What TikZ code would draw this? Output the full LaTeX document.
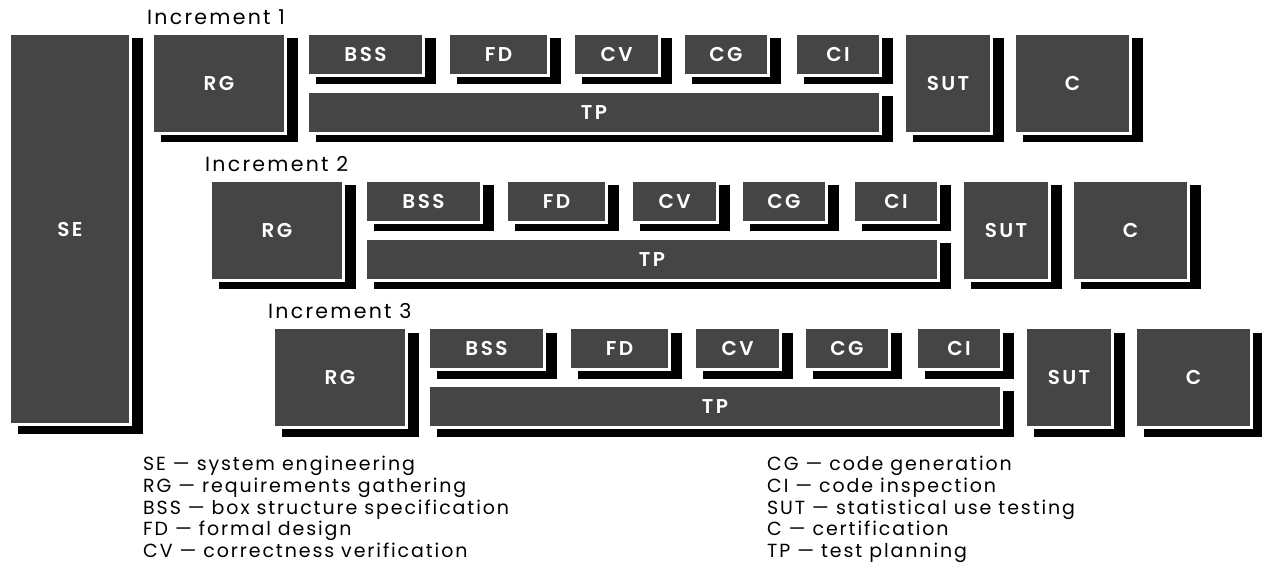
\documentclass[tikz,border=0pt]{standalone}
\usepackage{fontspec}
\setmainfont{Poppins}
\newfontfamily\legendfont[LetterSpace=10]{Poppins}
\newfontfamily\inclabelfont[LetterSpace=11]{Poppins}
\newfontfamily\phasefont[LetterSpace=12]{Poppins SemiBold}
\usepackage{tikz}
\usetikzlibrary{
    shadows,
    positioning
}
\definecolor{boxgray}{HTML}{454545}
\tikzset{
    phase/.style={
        draw=white, line width=2.5pt, fill=boxgray, inner sep=0pt,
        text=white, font=\phasefont\fontsize{20}{22}\selectfont,
        general shadow={fill=black, draw=black, line width=4pt,
            shadow xshift=10pt, shadow yshift=-7pt}
    },
    inclabel/.style={anchor=west, inner sep=0pt, font=\inclabelfont\fontsize{20.5}{22}\selectfont},
    legend/.style={anchor=north west, inner sep=0pt, align=left,
        font=\legendfont\fontsize{19}{21.7}\selectfont}
}

\begin{document}
\begin{tikzpicture}[x=1pt, y=-1pt]
    \useasboundingbox (0, 0) rectangle (1262, 564);
    \node[phase, minimum width=121pt, minimum height=391pt] (se) at (70, 229) {SE};
    \begin{scope}[shift={(0, 0)}]
        \node[inclabel] (inc1) at (147, 17) {Increment 1};
        \node[phase, minimum width=133pt, minimum height=100pt] (rg1) at (219, 83.5) {RG};
        \node[phase, minimum width=116pt, minimum height=42pt] (bss1) at (365.5, 54.5) {BSS};
        \node[phase, minimum width=100pt, minimum height=42pt] (fd1) at (498.5, 54.5) {FD};
        \node[phase, minimum width=86pt, minimum height=42pt] (cv1) at (616.5, 54.5) {CV};
        \node[phase, minimum width=85pt, minimum height=42pt] (cg1) at (726, 54.5) {CG};
        \node[phase, minimum width=85pt, minimum height=42pt] (ci1) at (838, 54.5) {CI};
        \node[phase, minimum width=573pt, minimum height=42pt] (tp1) at (594, 112.5) {TP};
        \node[phase, minimum width=87pt, minimum height=100pt] (sut1) at (948, 83.5) {SUT};
        \node[phase, minimum width=116pt, minimum height=100pt] (c1) at (1072.5, 83.5) {C};
    \end{scope}
    \begin{scope}[shift={(58, 147)}]
        \node[inclabel] (inc2) at (147, 17) {Increment 2};
        \node[phase, minimum width=133pt, minimum height=100pt] (rg2) at (219, 83.5) {RG};
        \node[phase, minimum width=116pt, minimum height=42pt] (bss2) at (365.5, 54.5) {BSS};
        \node[phase, minimum width=100pt, minimum height=42pt] (fd2) at (498.5, 54.5) {FD};
        \node[phase, minimum width=86pt, minimum height=42pt] (cv2) at (616.5, 54.5) {CV};
        \node[phase, minimum width=85pt, minimum height=42pt] (cg2) at (726, 54.5) {CG};
        \node[phase, minimum width=85pt, minimum height=42pt] (ci2) at (838, 54.5) {CI};
        \node[phase, minimum width=573pt, minimum height=42pt] (tp2) at (594, 112.5) {TP};
        \node[phase, minimum width=87pt, minimum height=100pt] (sut2) at (948, 83.5) {SUT};
        \node[phase, minimum width=116pt, minimum height=100pt] (c2) at (1072.5, 83.5) {C};
    \end{scope}
    \begin{scope}[shift={(121, 294)}]
        \node[inclabel] (inc3) at (147, 17) {Increment 3};
        \node[phase, minimum width=133pt, minimum height=100pt] (rg3) at (219, 83.5) {RG};
        \node[phase, minimum width=116pt, minimum height=42pt] (bss3) at (365.5, 54.5) {BSS};
        \node[phase, minimum width=100pt, minimum height=42pt] (fd3) at (498.5, 54.5) {FD};
        \node[phase, minimum width=86pt, minimum height=42pt] (cv3) at (616.5, 54.5) {CV};
        \node[phase, minimum width=85pt, minimum height=42pt] (cg3) at (726, 54.5) {CG};
        \node[phase, minimum width=85pt, minimum height=42pt] (ci3) at (838, 54.5) {CI};
        \node[phase, minimum width=573pt, minimum height=42pt] (tp3) at (594, 112.5) {TP};
        \node[phase, minimum width=87pt, minimum height=100pt] (sut3) at (948, 83.5) {SUT};
        \node[phase, minimum width=116pt, minimum height=100pt] (c3) at (1072.5, 83.5) {C};
    \end{scope}
    % legend
    \node[legend] (legleft) at (143, 456) {SE — system engineering\\
        RG — requirements gathering\\
        BSS — box structure specification\\
        FD — formal design\\
        CV — correctness verification};
    \node[legend] (legright) at (767, 456) {CG — code generation\\
        CI — code inspection\\
        SUT — statistical use testing\\
        C — certification\\
        TP — test planning};
\end{tikzpicture}
\end{document}
